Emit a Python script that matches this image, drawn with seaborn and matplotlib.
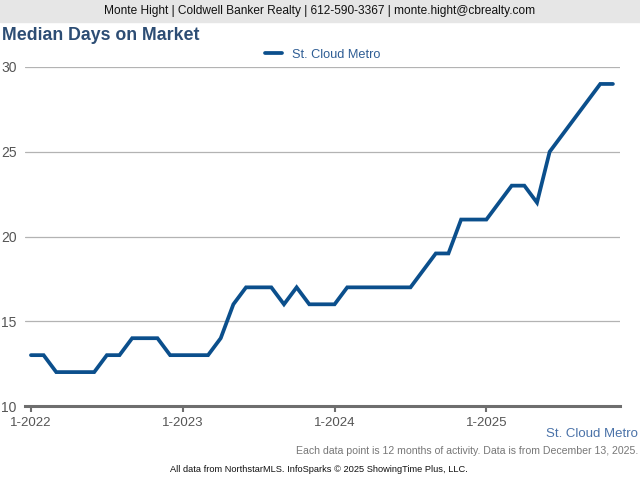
import matplotlib
matplotlib.use("Agg")
import matplotlib.pyplot as plt
import seaborn as sns
import pandas as pd

# monthly values, Jan 2022 .. Nov 2025
month_index = list(range(47))
days_on_market = [13, 13, 12, 12, 12, 12, 13, 13, 14, 14, 14, 13,
                  13, 13, 13, 14, 16, 17, 17, 17, 16, 17, 16, 16,
                  16, 17, 17, 17, 17, 17, 17, 18, 19, 19, 21, 21,
                  21, 22, 23, 23, 22, 25, 26, 27, 28, 29, 29]
tick_pos = [0, 12, 24, 36]
tick_labels = ["1-2022", "1-2023", "1-2024", "1-2025"]
y_ticks = [10, 15, 20, 25, 30]
series_name = "St. Cloud Metro"

sns.set_theme(style="white")
plt.rcParams['font.family'] = ['Liberation Sans', 'DejaVu Sans']

line_color = "#0b4f8c"
df = pd.DataFrame({"month": month_index, "dom": days_on_market})

fig = plt.figure(figsize=(6.4, 4.8), dpi=100)
fig.patch.set_facecolor("white")

# header band
fig.patches.append(plt.Rectangle((0, 1 - 22 / 480), 1, 22 / 480, transform=fig.transFigure,
                                 color="#e6e6e6", zorder=0))
fig.text(0.5, 1 - 11 / 480, "Monte Hight | Coldwell Banker Realty | 612-590-3367 | monte.hight@cbrealty.com",
         ha="center", va="center", fontsize=8.6, color="#111111")
fig.text(2 / 640, 1 - 35 / 480, "Median Days on Market", ha="left", va="center",
         fontsize=12.8, fontweight="bold", color="#2d4d74")

ax = fig.add_axes([25 / 640, 1 - 406 / 480, 595 / 640, 339 / 480])
sns.lineplot(data=df, x="month", y="dom", ax=ax, color=line_color, linewidth=2.7,
             label=series_name, solid_joinstyle="miter")

ax.set_xlim(-0.47, 46.56)
ax.set_ylim(10, 30)
ax.set_yticks(y_ticks)
ax.set_xticks(tick_pos)
ax.set_xticklabels(tick_labels)
ax.set_xlabel("")
ax.set_ylabel("")
ax.grid(axis="y", color="#b3b3b3", linewidth=0.9)
ax.set_axisbelow(True)
for side in ["top", "right", "left"]:
    ax.spines[side].set_visible(False)
ax.spines["bottom"].set_color("#6e6e6e")
ax.spines["bottom"].set_linewidth(2.2)
ax.tick_params(axis="y", length=0, pad=6, labelsize=10, labelcolor="#555555")
ax.tick_params(axis="x", length=4, width=1.5, color="#6e6e6e", direction="out",
               pad=4, labelsize=9.5, labelcolor="#555555", bottom=True)

leg = ax.legend(loc="lower center", bbox_to_anchor=(0.5, 1.0), frameon=False,
                fontsize=9.2, handlelength=1.3, borderaxespad=0.1)
for t in leg.get_texts():
    t.set_color("#2e5d94")

fig.text(638 / 640, 1 - 434 / 480, series_name, ha="right", va="center",
         fontsize=9.5, color="#4a72a8")
fig.text(638 / 640, 1 - 451 / 480,
         "Each data point is 12 months of activity. Data is from December 13, 2025.",
         ha="right", va="center", fontsize=7.6, color="#777777")
fig.text(170 / 640, 1 - 469 / 480,
         "All data from NorthstarMLS. InfoSparks \u00a9 2025 ShowingTime Plus, LLC.",
         ha="left", va="center", fontsize=6.7, color="#111111")

fig.savefig("out.png", dpi=100)
